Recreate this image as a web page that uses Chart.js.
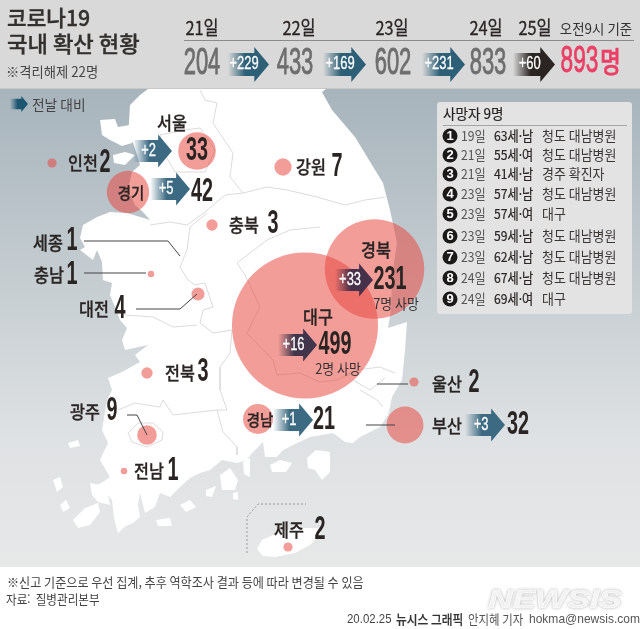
<!DOCTYPE html>
<html lang="ko"><head><meta charset="utf-8">
<script src="https://cdn.jsdelivr.net/npm/chart.js@4"></script>
<style>html,body{margin:0;padding:0;background:#fff}canvas{display:block}</style>
</head><body><canvas id="c" width="640" height="629"></canvas>
<script>
// ---------- data ----------
const days = ['21일','22일','23일','24일','25일'];
const dayTotals = [204,433,602,833,893];
const dayDeltas = [229,169,231,60];
const regions = ['서울','인천','경기','강원','충북','세종','충남','대전','전북','광주','전남','경남','대구','경북','울산','부산','제주'];
const regionTotals = [33,2,42,7,3,1,1,4,3,9,1,21,499,231,2,32,2];
const regionDeltas = [2,0,5,0,0,0,0,0,0,0,0,1,16,33,0,3,0];
const regionDeaths = {'대구':2,'경북':7};
const regionMapX = [197,52,128,283,212,180,151,198,147,147,124,258,305,374.5,414,405,288];
const regionMapY = [151,163,192,167,225,255,274,294,373,435,471,419,325.5,269,382,425,547];
const deathDay = ['19일','21일','21일','23일','23일','23일','23일','24일','24일'];
const deathWho = ['63세·남','55세·여','41세·남','57세·남','57세·여','59세·남','62세·남','67세·남','69세·여'];
const deathWhere = ['청도 대남병원','청도 대남병원','경주 확진자','청도 대남병원','대구','청도 대남병원','청도 대남병원','청도 대남병원','대구'];

// ---------- map geometry (map units) ----------
const mainland = [[148,89],[140,95],[130,105],[129,122],[128,135],[133,143],[137,155],[140,165],[132,172],[128,190],[135,205],[143,212],[157,228],[150,220],[127,213],[110,212],[97,217],[83,225],[80,238],[85,247],[80,250],[93,260],[97,250],[102,262],[103,280],[112,283],[110,295],[115,307],[120,320],[127,328],[122,340],[125,350],[148,345],[135,355],[140,362],[122,372],[108,378],[112,390],[107,400],[102,430],[108,443],[100,460],[110,477],[103,482],[93,487],[105,492],[112,500],[114,518],[118,533],[126,526],[133,523],[140,517],[138,505],[140,493],[145,513],[155,507],[160,493],[170,497],[180,487],[190,478],[200,473],[210,470],[222,460],[237,463],[247,460],[252,453],[263,442],[265,457],[277,457],[283,450],[297,443],[310,437],[333,433],[345,442],[353,443],[360,437],[380,427],[388,415],[390,407],[392,397],[402,380],[405,350],[407,322],[388,328],[391,310],[392,277],[397,243],[390,210],[383,183],[355,137],[332,110],[322,92],[326,89]];
const islands = [
 [[100,120],[115,119],[118,127],[130,125],[132,143],[122,146],[110,140],[102,135]],
 [[113,155],[125,152],[135,155],[125,165],[114,163]],
 [[73,520],[85,508],[98,503],[100,512],[90,525],[78,528]],
 [[90,483],[100,485],[108,495],[110,505],[98,502],[92,495]],
 [[53,480],[60,477],[63,487],[57,492]],
 [[68,443],[78,440],[80,446],[70,448]],
 [[220,475],[230,468],[238,480],[235,490],[222,490]],
 [[243,462],[250,458],[250,477],[244,474]],
 [[233,493],[238,492],[238,500],[233,499]],
 [[307,458],[316,450],[330,452],[330,472],[322,480],[315,470],[308,468]],
 [[270,465],[280,460],[292,463],[286,472],[272,472]],
 [[206,490],[216,486],[212,497],[206,496]],
 [[156,520],[170,518],[172,526],[158,526]],
 [[180,505],[190,500],[196,507],[186,512]],
 [[60,505],[66,500],[70,508],[63,512]],
 [[257,549],[262,540],[280,532],[300,528],[321,528],[320,535],[310,545],[295,553],[275,557],[263,556]]
];
const boundaries = [
 [[200,90],[205,100],[217,103],[213,123],[233,153],[230,177],[243,193],[267,187],[287,190],[317,197],[345,205],[365,200],[385,197]],
 [[243,193],[225,195],[205,212],[187,225],[170,222],[150,225]],
 [[207,213],[190,227],[187,250],[180,267],[188,280],[195,285],[205,283],[213,307],[203,310],[200,323],[213,333]],
 [[320,227],[290,230],[267,240],[237,263],[245,275],[260,307],[247,333],[273,360],[277,375],[300,373],[320,382],[337,380],[357,370],[380,367],[395,373]],
 [[153,317],[173,327],[197,325]],
 [[125,315],[153,317]],
 [[213,333],[232,330],[230,353],[220,367],[220,390],[227,410],[217,410],[173,415],[163,400],[160,407],[135,403],[118,410]],
 [[217,410],[223,432],[237,447],[237,455]],
 [[128,433],[138,423],[153,423],[163,432],[162,440],[147,447],[132,442],[128,433]],
 [[353,380],[370,390],[385,378]],
 [[360,390],[377,400],[383,407]],
 [[160,135],[185,130],[200,128],[215,150],[205,172],[175,172],[165,155],[160,135]]
];
const leaders = [
 [[84,241],[168,241],[180,256]],
 [[84,273],[146,273]],
 [[136,309],[180,309],[197,294]],
 [[127,415],[137,415],[147,435]],
 [[377,384],[408,384]],
 [[366,425],[395,425]]
];
const jejuBox = [[247,553],[247,517],[258,504],[306,504]];

// ---------- label layout ----------
const nameX = [172,83,131,311,244,48,49,94,180,85,149,260,318,376,447,447,289];
const nameY = [123,163,193,167,225,243,275,309,373,412,471,420,317,250,384,426,530];
const valueX = [197,105,202,337,273,72,72,120,203,112,173,324,335,390,474,518,320];
const valueY = [151,163,192,167,224,241,275,309,372,411,471,420,345,280,383,425,530];
const nameSize = {'경기':16,'경남':16};
const arrowRegion = {'서울':[133,172,151],'경기':[150,190,189],'경남':[273,313,420],'대구':[278,317,345],'경북':[335,373,280],'부산':[465,505,425]};
const arrowColor = {'대구':'#40354a','경북':'#47304a'};
const headerNumberX = [202,295,393,488];
const headerDayX = [202,299,392,486,535];
const headerArrowX = [[228,269],[323,366],[422,465],[513,555]];
const deathRowY = [136,155,174,194,214,236,257,278,299];

const KR = '"Noto Sans CJK KR","Noto Sans",sans-serif';
const LAT = '"Liberation Sans",Arial,sans-serif';

function polyData(p){return p.map(q=>({x:q[0],y:q[1]}));}
function txt(ctx,s,x,y,o){
  o=o||{};
  ctx.save();
  ctx.translate(x,y);ctx.scale(o.sx||1,1);
  ctx.font=(o.style||'')+' '+(o.w||400)+' '+(o.size||14)+'px '+(o.font||KR);
  ctx.fillStyle=o.color||'#2a2523';
  ctx.textAlign=o.align||'center';
  ctx.textBaseline='middle';
  ctx.fillText(s,0,0);
  if(o.stroke){ctx.strokeStyle=ctx.fillStyle;ctx.lineWidth=o.stroke;ctx.lineJoin='round';ctx.strokeText(s,0,0);}
  ctx.restore();
}
function arrow(ctx,x0,x1,yc,h,color,label,lsize){
  const head=h*0.42, sh=h*0.33, xh=x1-head;
  const g=ctx.createLinearGradient(x0,0,x1,0);
  const rgb=parseInt(color.slice(1),16);
  const r=rgb>>16,gg=(rgb>>8)&255,b=rgb&255;
  g.addColorStop(0,`rgba(${r},${gg},${b},0)`);
  g.addColorStop(0.42,`rgba(${r},${gg},${b},1)`);
  g.addColorStop(1,`rgba(${r},${gg},${b},1)`);
  ctx.fillStyle=g;
  ctx.beginPath();
  ctx.moveTo(x0,yc-sh);ctx.lineTo(xh,yc-sh);ctx.lineTo(xh,yc-h/2);ctx.lineTo(x1,yc);
  ctx.lineTo(xh,yc+h/2);ctx.lineTo(xh,yc+sh);ctx.lineTo(x0,yc+sh);ctx.closePath();ctx.fill();
  if(label) txt(ctx,label,(x0+xh)/2+3,yc,{font:LAT,size:lsize||18,sx:0.72,color:'#fff',w:400,stroke:0.3});
}

const backdrop = {
  id:'backdrop',
  beforeDatasetsDraw(chart){
    const ctx=chart.ctx, X=chart.scales.x, Y=chart.scales.y;
    const sea=ctx.createLinearGradient(0,89,0,567);
    sea.addColorStop(0,'#a7b4bc');sea.addColorStop(0.4,'#c5cdd1');sea.addColorStop(0.72,'#dee1e3');sea.addColorStop(1,'#e7e8e8');
    ctx.fillStyle=sea;ctx.fillRect(0,88,640,479);
    ctx.fillStyle='#fff';
    [mainland].concat(islands).forEach(p=>{
      ctx.beginPath();
      p.forEach((q,i)=>{const a=X.getPixelForValue(q[0]),b=Y.getPixelForValue(q[1]);i?ctx.lineTo(a,b):ctx.moveTo(a,b);});
      ctx.closePath();ctx.fill();
    });
    ctx.fillStyle='#d9d9d9';ctx.fillRect(0,0,640,88);
    ctx.fillStyle='#c9c9c9';ctx.fillRect(0,88,640,1);
  }
};

const overlay = {
  id:'overlay',
  afterDatasetsDraw(chart){
    const ctx=chart.ctx;
    // title
    txt(ctx,'코로나19',7,18,{align:'left',size:22,w:500,sx:0.97,color:'#33302e',stroke:0.35});
    txt(ctx,'국내 확산 현황',7,44,{align:'left',size:22,w:500,sx:1.01,color:'#33302e',stroke:0.35});
    txt(ctx,'※격리해제 22명',6,72,{align:'left',size:14,sx:0.95,color:'#444'});
    // header
    ctx.fillStyle='#8b8b8b';ctx.fillRect(184,40,450,1);
    days.forEach((d,i)=>txt(ctx,d,headerDayX[i],28,{size:19,sx:0.86,w:400,stroke:0.3}));
    txt(ctx,'오전9시 기준',596,29,{size:14,sx:0.96,color:'#333'});
    dayTotals.forEach((v,i)=>{
      if(i<4) txt(ctx,String(v),headerNumberX[i],64,{font:LAT,size:36,sx:0.61,color:'#6e6e6e',stroke:0.9});
    });
    txt(ctx,String(dayTotals[4]),579.5,62,{font:LAT,size:36,sx:0.63,color:'#ec3f66',stroke:0.9});
    txt(ctx,'명',610.5,62,{size:29,sx:0.78,w:500,color:'#ec3f66',stroke:0.5});
    dayDeltas.forEach((v,i)=>{
      const a=headerArrowX[i];
      arrow(ctx,a[0],a[1],64.5,35,i===3?'#2a2422':'#2d5f76','+'+v,18);
    });
    // legend
    arrow(ctx,10,28,104,16,'#1d5670',null);
    txt(ctx,'전날 대비',32,105,{align:'left',size:14,sx:0.98,color:'#444'});
    // region arrows + labels
    regions.forEach((n,i)=>{
      const a=arrowRegion[n];
      if(a) arrow(ctx,a[0],a[1],a[2],33,arrowColor[n]||'#3b6a82','+'+regionDeltas[i],18);
      txt(ctx,n,nameX[i],nameY[i],{size:nameSize[n]||18,sx:0.9,w:500,stroke:0.3});
      txt(ctx,String(regionTotals[i]),valueX[i],valueY[i],{font:LAT,size:33,sx:0.6,w:700});
      if(regionDeaths[n]) txt(ctx,regionDeaths[n]+'명 사망',n==='대구'?338:396,n==='대구'?369:304,{size:14,sx:0.92,color:'#333'});
    });
    // deaths panel
    ctx.fillStyle='#e3e3e3';
    ctx.beginPath();ctx.roundRect(437,102,195,212,3);ctx.fill();
    txt(ctx,'사망자 '+deathDay.length+'명',443,114,{align:'left',size:14,sx:0.97,color:'#2a2523',stroke:0.2});
    ctx.fillStyle='#a5a5a5';ctx.fillRect(443,125,184,1);
    deathDay.forEach((d,i)=>{
      const y=deathRowY[i];
      ctx.fillStyle='#1c1a19';ctx.beginPath();ctx.arc(450,y,7.5,0,Math.PI*2);ctx.fill();
      txt(ctx,String(i+1),450,y+0.5,{font:LAT,size:13,w:700,color:'#fff'});
      txt(ctx,d,461,y,{align:'left',size:13.5,sx:0.9,color:'#555'});
      txt(ctx,deathWho[i],494,y,{align:'left',size:13.5,sx:0.9,color:'#2a2523',stroke:0.2});
      txt(ctx,deathWhere[i],542,y,{align:'left',size:13.5,sx:0.96,color:'#3a3735'});
    });
    // footer
    txt(ctx,'※신고 기준으로 우선 집계, 추후 역학조사 결과 등에 따라 변경될 수 있음',7,582,{align:'left',size:13,sx:0.93,color:'#444'});
    txt(ctx,'자료:  질병관리본부',6,599,{align:'left',size:13,sx:0.89,color:'#444'});
    ctx.save();
    ctx.shadowColor='rgba(90,90,90,0.45)';ctx.shadowBlur=3;
    txt(ctx,'NEWSIS',555,601,{font:LAT,style:'italic',w:700,size:26,sx:1.3,color:'#ffffff',stroke:0.6});
    ctx.restore();
    txt(ctx,'20.02.25 ',347,619,{align:'left',font:LAT,size:13,sx:0.88,color:'#444'});
    txt(ctx,'뉴시스 그래픽',396,619,{align:'left',size:13,sx:0.9,w:500,color:'#333',stroke:0.2});
    txt(ctx,'안지혜 기자',468,619,{align:'left',size:13,sx:0.88,color:'#555'});
    txt(ctx,'hokma@newsis.com',529,619,{align:'left',font:LAT,size:13.5,sx:0.89,color:'#555'});
  }
};

const lineSet=(p,color,order,extra)=>Object.assign({type:'scatter',showLine:true,data:polyData(p),borderColor:color,borderWidth:1,pointRadius:0,fill:false,order:order,tension:0},extra||{});

new Chart(document.getElementById('c'),{
  data:{datasets:[
    ...boundaries.map(b=>lineSet(b,'#dcdcdc',9)),
    lineSet(jejuBox,'#9a9a9a',8,{borderDash:[2,2]}),
    {type:'bubble',order:3,
     data:regions.map((n,i)=>({x:regionMapX[i],y:regionMapY[i],r:n==='세종'?0:3.27*Math.sqrt(regionTotals[i])})),
     backgroundColor:'rgba(232,70,62,0.53)',borderWidth:0,borderColor:'transparent'},
    ...leaders.map(l=>lineSet(l,'#454545',1))
  ]},
  options:{
    responsive:false,animation:false,
    layout:{padding:0,autoPadding:false},
    scales:{
      x:{type:'linear',min:0,max:640,display:false},
      y:{type:'linear',min:0,max:629,reverse:true,display:false}
    },
    plugins:{legend:{display:false},tooltip:{enabled:false},title:{display:false}},
    clip:false
  },
  plugins:[backdrop,overlay]
});
</script></body></html>
